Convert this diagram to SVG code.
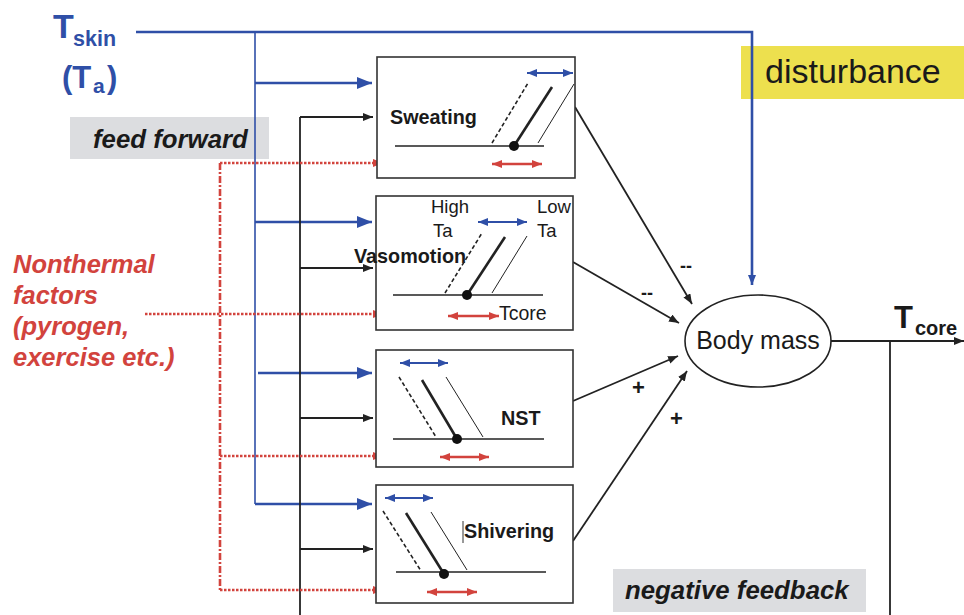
<svg xmlns="http://www.w3.org/2000/svg" width="964" height="615" viewBox="0 0 964 615">
  <style>
    .blue { stroke: #2f4fa7; fill: none; }
    .blk { stroke: #222; fill: none; }
    .red { stroke: #d2433d; fill: none; stroke-width: 2.6; }
    .redv { stroke-dasharray: 7 2 2 2; }
    .redh { stroke-dasharray: 2.5 1.5; }
    .box { fill: #fff; stroke: #333; stroke-width: 1.6; }
    .lbl { font-family: "Liberation Sans", Arial, sans-serif; fill: #1a1a1a; }
    .bold { font-weight: bold; font-size: 19.8px; }
    .reg { font-size: 18.5px; }
    .note { font-family: "Liberation Sans", Arial, sans-serif; font-weight: bold; font-style: italic; font-size: 25.8px; fill: #1a1a1a; }
    .nonth { font-family: "Liberation Sans", Arial, sans-serif; font-weight: bold; font-style: italic; font-size: 25.5px; fill: #d2433d; }
    .tsk { font-family: "Liberation Sans", Arial, sans-serif; font-weight: bold; fill: #2f4fa7; }
  </style>
  <defs>
    <marker id="bBig" markerUnits="userSpaceOnUse" markerWidth="15" markerHeight="12" refX="15" refY="6" orient="auto">
      <path d="M0,0 L15,6 L0,12 z" fill="#2f4fa7"/>
    </marker>
    <marker id="bSm" markerUnits="userSpaceOnUse" markerWidth="10" markerHeight="8" refX="10" refY="4" orient="auto-start-reverse">
      <path d="M0,0 L10,4 L0,8 z" fill="#2f4fa7"/>
    </marker>
    <marker id="rSm" markerUnits="userSpaceOnUse" markerWidth="10" markerHeight="8" refX="10" refY="4" orient="auto-start-reverse">
      <path d="M0,0 L10,4 L0,8 z" fill="#d2433d"/>
    </marker>
    <marker id="kArr" markerUnits="userSpaceOnUse" markerWidth="10" markerHeight="8" refX="10" refY="4" orient="auto">
      <path d="M0,0 L10,4 L0,8 z" fill="#222"/>
    </marker>
  </defs>

  <!-- annotation panels -->
  <rect x="70" y="117" width="199" height="42" fill="#dcdde0"/>
  <text class="note" x="93" y="148">feed forward</text>
  <rect x="741" y="46" width="223" height="53" fill="#ede04e"/>
  <text class="lbl" x="765" y="83" font-size="34">disturbance</text>
  <rect x="613" y="569" width="253" height="43" fill="#dcdde0"/>
  <text class="note" x="625" y="599">negative feedback</text>

  <!-- input labels -->
  <g id="tskin">
    <text class="tsk" x="53" y="38" font-size="34">T</text>
    <text class="tsk" x="73" y="46" font-size="21.5">skin</text>
    <text class="tsk" x="62" y="88" font-size="31">(T</text>
    <text class="tsk" x="93" y="93" font-size="21">a</text>
    <text class="tsk" x="107" y="88" font-size="31">)</text>
  </g>
  <g id="nonthermal">
    <text class="nonth" x="13" y="273">Nonthermal</text>
    <text class="nonth" x="13" y="304">factors</text>
    <text class="nonth" x="13" y="335">(pyrogen,</text>
    <text class="nonth" x="13" y="366">exercise etc.)</text>
  </g>

  <!-- connectors -->
  <g id="connectors">
    <!-- skin temperature feed forward -->
    <polyline class="blue" stroke-width="2.6" points="136,32 752,32 752,285" marker-end="url(#bSm)"/>
    <line class="blue" stroke-width="1.6" x1="255" y1="32" x2="255" y2="504"/>
    <line class="blue" stroke-width="2.6" x1="255" y1="83" x2="372" y2="83" marker-end="url(#bBig)"/>
    <line class="blue" stroke-width="2.6" x1="255" y1="222" x2="372" y2="222" marker-end="url(#bBig)"/>
    <line class="blue" stroke-width="2.6" x1="258" y1="373" x2="372" y2="373" marker-end="url(#bBig)"/>
    <line class="blue" stroke-width="2.6" x1="255" y1="504" x2="372" y2="504" marker-end="url(#bBig)"/>

    <!-- core temperature feedback -->
    <line class="blk" stroke-width="1.8" x1="300" y1="117" x2="300" y2="615"/>
    <line class="blk" stroke-width="1.8" x1="300" y1="117" x2="373" y2="117" marker-end="url(#kArr)"/>
    <line class="blk" stroke-width="1.8" x1="300" y1="268" x2="373" y2="268" marker-end="url(#kArr)"/>
    <line class="blk" stroke-width="1.8" x1="300" y1="418" x2="373" y2="418" marker-end="url(#kArr)"/>
    <line class="blk" stroke-width="1.8" x1="300" y1="549" x2="373" y2="549" marker-end="url(#kArr)"/>

    <!-- nonthermal inputs -->
    <line class="red redv" x1="220" y1="163" x2="220" y2="590"/>
    <line class="red redh" x1="220" y1="163" x2="383" y2="163" marker-end="url(#rSm)"/>
    <line class="red redh" x1="145" y1="314" x2="383" y2="314" marker-end="url(#rSm)"/>
    <line class="red redh" x1="220" y1="456" x2="383" y2="456" marker-end="url(#rSm)"/>
    <line class="red redh" x1="220" y1="590" x2="383" y2="590" marker-end="url(#rSm)"/>

    <!-- effector outputs -->
    <line class="blk" stroke-width="1.8" x1="575" y1="107" x2="692" y2="304" marker-end="url(#kArr)"/>
    <line class="blk" stroke-width="1.8" x1="573" y1="262" x2="679" y2="323" marker-end="url(#kArr)"/>
    <line class="blk" stroke-width="1.8" x1="573" y1="401" x2="678" y2="356" marker-end="url(#kArr)"/>
    <line class="blk" stroke-width="1.8" x1="573" y1="541" x2="687" y2="371" marker-end="url(#kArr)"/>
    <text class="lbl" x="680" y="272" font-size="18" font-weight="bold">--</text>
    <text class="lbl" x="641" y="299" font-size="18" font-weight="bold">--</text>
    <text class="lbl" x="632" y="395" font-size="22" font-weight="bold">+</text>
    <text class="lbl" x="670" y="426" font-size="22" font-weight="bold">+</text>

    <!-- core temperature output -->
    <line class="blk" stroke-width="1.8" x1="831" y1="341" x2="964" y2="341" marker-end="url(#kArr)"/>
    <line class="blk" stroke-width="1.8" x1="890" y1="341" x2="890" y2="615"/>
  </g>

  <g id="tcore">
    <text class="lbl" x="894" y="328" font-size="31" font-weight="bold">T</text>
    <text class="lbl" x="915" y="335" font-size="20" font-weight="bold">core</text>
  </g>

  <g id="body-mass">
    <ellipse cx="758" cy="341" rx="73" ry="46" fill="#fff" stroke="#222" stroke-width="1.6"/>
    <text class="lbl" x="758" y="349" font-size="25" text-anchor="middle">Body mass</text>
  </g>

  <g id="sweating">
    <rect class="box" x="377" y="57" width="198" height="121"/>
    <text class="lbl bold" x="390" y="124">Sweating</text>
    <line class="blk" stroke-width="1.6" x1="395" y1="146" x2="544" y2="146"/>
    <line class="blk" stroke-width="1.6" stroke-dasharray="4 2.5" x1="492" y1="143" x2="528" y2="83"/>
    <line class="blk" stroke-width="1" x1="538" y1="143" x2="574" y2="84"/>
    <line class="blk" stroke-width="2.6" x1="514" y1="146" x2="552" y2="87"/>
    <circle cx="514" cy="146" r="5" fill="#111"/>
    <line class="blue" stroke-width="2" x1="527" y1="73" x2="573" y2="73" marker-start="url(#bSm)" marker-end="url(#bSm)"/>
    <line class="red" stroke-width="2" x1="492" y1="164" x2="542" y2="164" marker-start="url(#rSm)" marker-end="url(#rSm)"/>
  </g>

  <g id="vasomotion">
    <rect class="box" x="376" y="196" width="197" height="134"/>
    <text class="lbl reg" x="431" y="213">High</text>
    <text class="lbl reg" x="433" y="237">Ta</text>
    <text class="lbl reg" x="537" y="213">Low</text>
    <text class="lbl reg" x="537" y="237">Ta</text>
    <text class="lbl bold" x="354" y="263">Vasomotion</text>
    <line class="blk" stroke-width="1.6" x1="393" y1="295" x2="543" y2="295"/>
    <line class="blk" stroke-width="1.6" stroke-dasharray="4 2.5" x1="445" y1="293" x2="482" y2="233"/>
    <line class="blk" stroke-width="1" x1="492" y1="293" x2="527" y2="236"/>
    <line class="blk" stroke-width="2.6" x1="467" y1="295" x2="505" y2="237"/>
    <circle cx="467" cy="295" r="5" fill="#111"/>
    <line class="blue" stroke-width="2" x1="478" y1="222" x2="527" y2="222" marker-start="url(#bSm)" marker-end="url(#bSm)"/>
    <line class="red" stroke-width="2" x1="448" y1="316" x2="499" y2="316" marker-start="url(#rSm)" marker-end="url(#rSm)"/>
    <text class="lbl" x="499" y="320" font-size="19.5">Tcore</text>
  </g>

  <g id="nst">
    <rect class="box" x="376" y="350" width="197" height="117"/>
    <text class="lbl bold" x="501" y="425">NST</text>
    <line class="blk" stroke-width="1.6" x1="393" y1="439" x2="544" y2="439"/>
    <line class="blk" stroke-width="1.6" stroke-dasharray="4 2.5" x1="399" y1="377" x2="436" y2="437"/>
    <line class="blk" stroke-width="1" x1="446" y1="377" x2="483" y2="437"/>
    <line class="blk" stroke-width="2.6" x1="422" y1="380" x2="457" y2="439"/>
    <circle cx="457" cy="439" r="5" fill="#111"/>
    <line class="blue" stroke-width="2" x1="400" y1="363" x2="448" y2="363" marker-start="url(#bSm)" marker-end="url(#bSm)"/>
    <line class="red" stroke-width="2" x1="440" y1="457" x2="489" y2="457" marker-start="url(#rSm)" marker-end="url(#rSm)"/>
  </g>

  <g id="shivering">
    <rect class="box" x="376" y="485" width="197" height="118"/>
    <line stroke="#333" stroke-width="1" x1="463" y1="521" x2="463" y2="543"/>
    <text class="lbl bold" x="464" y="538">Shivering</text>
    <line class="blk" stroke-width="1.6" x1="396" y1="572" x2="546" y2="572"/>
    <line class="blk" stroke-width="1.6" stroke-dasharray="4 2.5" x1="383" y1="511" x2="421" y2="571"/>
    <line class="blk" stroke-width="1" x1="431" y1="512" x2="467" y2="570"/>
    <line class="blk" stroke-width="2.6" x1="406" y1="513" x2="444" y2="574"/>
    <circle cx="444" cy="574" r="5" fill="#111"/>
    <line class="blue" stroke-width="2" x1="385" y1="498" x2="433" y2="498" marker-start="url(#bSm)" marker-end="url(#bSm)"/>
    <line class="red" stroke-width="2" x1="427" y1="592" x2="477" y2="592" marker-start="url(#rSm)" marker-end="url(#rSm)"/>
  </g>
</svg>
